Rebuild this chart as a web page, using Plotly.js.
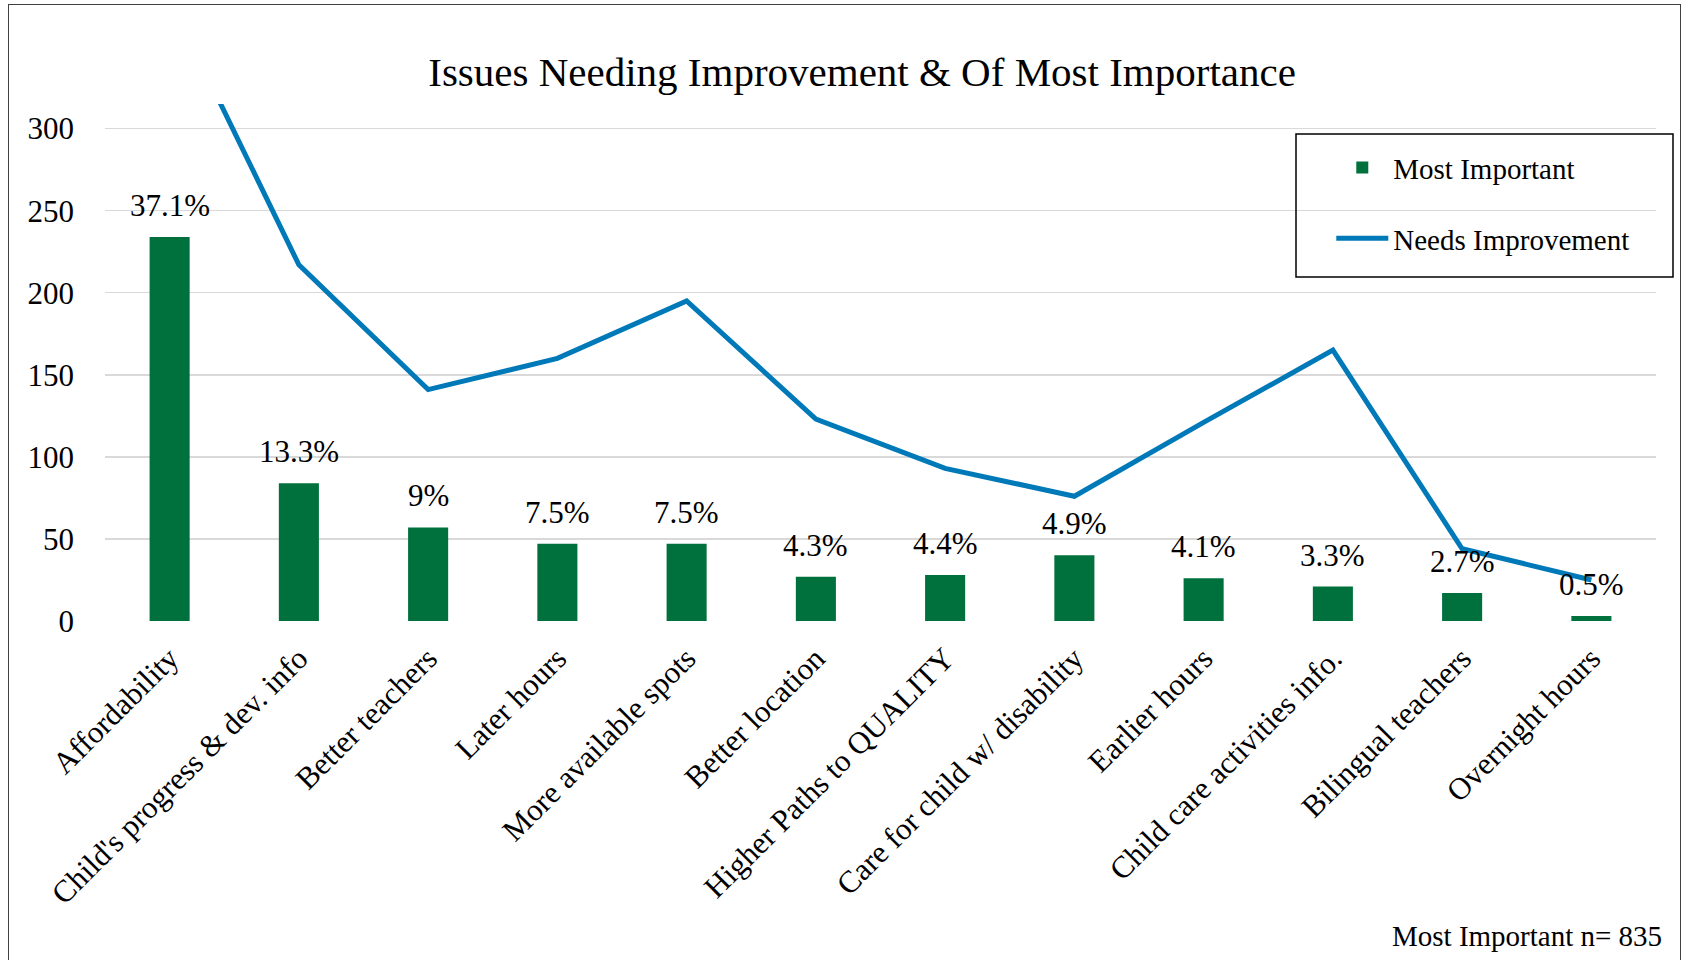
<!DOCTYPE html>
<html>
<head>
<meta charset="utf-8">
<script src="https://cdn.plot.ly/plotly-3.0.1.min.js"></script>
<style>
  html, body { margin: 0; padding: 0; background: #ffffff; }
  #frame { position: absolute; left: 8px; top: 4px; width: 1673px; height: 1000px; border: 1.5px solid #404040; box-sizing: border-box; pointer-events: none; z-index: 5; }
  #chart { position: absolute; left: 0; top: 0; width: 1687px; height: 960px; }
</style>
</head>
<body>
<div id="chart"></div>
<div id="frame"></div>
<script>
const categories = ["Affordability", "Child's progress & dev. info", "Better teachers", "Later hours",
  "More available spots", "Better location", "Higher Paths to QUALITY", "Care for child w/ disability",
  "Earlier hours", "Child care activities info.", "Bilingual teachers", "Overnight hours"];
const mostImportant = [234, 84, 57, 47, 47, 27, 28, 40, 26, 21, 17, 3];
const mostImportantLabels = ["37.1%", "13.3%", "9%", "7.5%", "7.5%", "4.3%", "4.4%", "4.9%", "4.1%", "3.3%", "2.7%", "0.5%"];
const needsImprovement = [379, 217, 141, 160, 195, 123, 93, 76, 121, 165, 44, 25];
const yTicks = [0, 50, 100, 150, 200, 250, 300];

const FONT = "'Liberation Serif', 'Times New Roman', serif";

const traces = [
  {
    type: 'bar', name: 'Most Important',
    x: categories, y: mostImportant,
    marker: { color: '#00703C' },
    legendrank: 1, legendgroup: 'a', hoverinfo: 'skip'
  },
  {
    type: 'scatter', mode: 'lines', name: 'Needs Improvement',
    x: categories, y: needsImprovement,
    line: { color: '#0079B8', width: 5 },
    legendrank: 2, legendgroup: 'b', hoverinfo: 'skip'
  }
];

const labelAnnotations = categories.map((c, i) => ({
  x: c, y: mostImportant[i], xref: 'x', yref: 'y',
  text: mostImportantLabels[i], showarrow: false,
  xanchor: 'center', yanchor: 'bottom', yshift: 12,
  font: { family: FONT, size: 31, color: '#000000' }
}));

const layout = {
  width: 1687, height: 960,
  paper_bgcolor: '#ffffff', plot_bgcolor: '#ffffff',
  margin: { l: 105, r: 31, t: 104, b: 339 },
  font: { family: FONT, color: '#000000', size: 30 },
  title: {
    text: 'Issues Needing Improvement & Of Most Importance',
    font: { family: FONT, size: 41, color: '#000000' },
    xref: 'container', x: 0.511, xanchor: 'center',
    yref: 'container', y: 0.925, yanchor: 'middle'
  },
  bargap: 0.69,
  showlegend: true,
  legend: {
    x: 0.986, xanchor: 'right', y: 0.926, yanchor: 'top',
    bgcolor: 'rgba(0,0,0,0)', borderwidth: 0,
    font: { family: FONT, size: 29, color: '#000000' },
    itemwidth: 52, tracegroupgap: 30, traceorder: 'grouped'
  },
  xaxis: {
    type: 'category', tickangle: -45, showgrid: false, showline: false, zeroline: false,
    ticks: '', ticklabelstandoff: 12,
    tickfont: { family: FONT, size: 31, color: '#000000' }
  },
  yaxis: {
    range: [0, 315], tickvals: yTicks, showgrid: true, gridcolor: '#D9D9D9', gridwidth: 1.4,
    showline: false, zeroline: false, ticks: '', ticklabelstandoff: 30,
    tickfont: { family: FONT, size: 31, color: '#000000' }
  },
  shapes: [
    { type: 'rect', xref: 'paper', yref: 'paper', x0: (1296 - 105) / 1551, x1: (1673 - 105) / 1551,
      y0: (621 - 277) / 517, y1: (621 - 134) / 517, line: { color: '#000000', width: 1.5 }, fillcolor: 'rgba(0,0,0,0)' }
  ],
  annotations: labelAnnotations.concat([
    { text: 'Most Important n= 835', xref: 'paper', yref: 'paper', x: (1664 - 105) / 1551, y: (621 - 936) / 517,
      xanchor: 'right', yanchor: 'middle', showarrow: false,
      font: { family: FONT, size: 29, color: '#000000' } }
  ])
};

Plotly.newPlot('chart', traces, layout, { displayModeBar: false, staticPlot: true });
</script>
</body>
</html>
